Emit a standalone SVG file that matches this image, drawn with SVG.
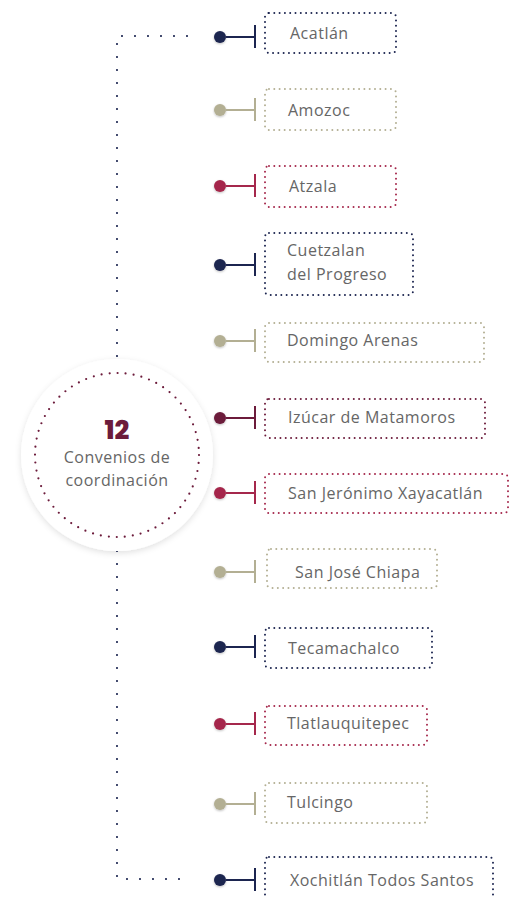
<svg xmlns="http://www.w3.org/2000/svg" width="523" height="898" viewBox="0 0 523 898">
<style>
.box{fill:#fff;stroke-width:2;stroke-linecap:round;stroke-dasharray:0 5.3}
.lbl{font-family:"Open Sans","Liberation Sans",sans-serif;font-size:16px;letter-spacing:0.5px;fill:#666}
.ln{stroke-width:2;fill:none}
.navy{stroke:#1c2550}.navyf{fill:#1c2550}
.tan{stroke:#b3af93}.tanf{fill:#b3af93}
.red{stroke:#a5284c}.redf{fill:#a5284c}
.mar{stroke:#6c1b3b}.marf{fill:#6c1b3b}
</style>
<defs>
<filter id="sh" x="-50%" y="-50%" width="200%" height="200%"><feDropShadow dx="0" dy="1" stdDeviation="1.2" flood-color="#000" flood-opacity="0.25"/></filter>
<filter id="csh" x="-20%" y="-20%" width="140%" height="140%"><feDropShadow dx="0" dy="2" stdDeviation="3" flood-color="#000" flood-opacity="0.12"/></filter>
</defs>
<rect width="523" height="898" fill="#fff"/>
<g id="connectors">
<path d="M187 36 H117 V879 H187" fill="none" stroke="#1c2550" stroke-width="2.2" stroke-linecap="round" stroke-dasharray="0 13"/>
</g>
<g id="center">
<circle cx="117" cy="455" r="96" fill="#fff" filter="url(#csh)"/>
<circle cx="117" cy="455" r="82" fill="none" stroke="#6c1b3b" stroke-width="2.2" stroke-linecap="round" stroke-dasharray="0 8.05"/>
<text x="117" y="439" text-anchor="middle" font-family="Poppins,'Open Sans','Liberation Sans',sans-serif" font-weight="800" font-size="26" fill="#6c1b3b">12</text>
<text x="117" y="463" text-anchor="middle" class="lbl">Convenios de</text>
<text x="117" y="486" text-anchor="middle" class="lbl">coordinación</text>
</g>
<g id="n1"><circle cx="220" cy="37" r="6" class="navyf" filter="url(#sh)"/><path d="M226 37H255M255 25V48" class="ln navy"/><rect x="265" y="13" width="131" height="40" rx="4" class="box navy"/><text x="290" y="39" class="lbl">Acatlán</text></g>
<g id="n2"><circle cx="220" cy="110" r="6" class="tanf" filter="url(#sh)"/><path d="M226 110H255M255 98V121" class="ln tan"/><rect x="265" y="89" width="131" height="41" rx="4" class="box tan"/><text x="288" y="116" class="lbl">Amozoc</text></g>
<g id="n3"><circle cx="220" cy="186" r="6" class="redf" filter="url(#sh)"/><path d="M226 186H255M255 174V197" class="ln red"/><rect x="265" y="166" width="131" height="41" rx="4" class="box red"/><text x="289" y="192" class="lbl">Atzala</text></g>
<g id="n4"><circle cx="220" cy="265" r="6" class="navyf" filter="url(#sh)"/><path d="M226 265H255M255 253V276" class="ln navy"/><rect x="265" y="233" width="148" height="62" rx="4" class="box navy"/><text x="287" y="256" class="lbl">Cuetzalan</text><text x="287" y="280" class="lbl">del Progreso</text></g>
<g id="n5"><circle cx="220" cy="341" r="6" class="tanf" filter="url(#sh)"/><path d="M226 341H255M255 329V352" class="ln tan"/><rect x="265" y="323" width="219" height="39" rx="4" class="box tan"/><text x="287" y="346" class="lbl">Domingo Arenas</text></g>
<g id="n6"><circle cx="220" cy="418" r="6" class="marf" filter="url(#sh)"/><path d="M226 418H255M255 406V429" class="ln mar"/><rect x="265" y="399" width="220" height="39" rx="4" class="box mar"/><text x="288" y="423" class="lbl">Izúcar de Matamoros</text></g>
<g id="n7"><circle cx="220" cy="493" r="6" class="redf" filter="url(#sh)"/><path d="M226 493H255M255 481V504" class="ln red"/><rect x="265" y="474" width="243" height="39" rx="4" class="box red"/><text x="288" y="499" class="lbl">San Jerónimo Xayacatlán</text></g>
<g id="n8"><circle cx="220" cy="572" r="6" class="tanf" filter="url(#sh)"/><path d="M226 572H255M255 560V583" class="ln tan"/><rect x="267" y="549" width="170" height="39" rx="4" class="box tan"/><text x="295" y="578" class="lbl">San José Chiapa</text></g>
<g id="n9"><circle cx="220" cy="647" r="6" class="navyf" filter="url(#sh)"/><path d="M226 647H255M255 635V658" class="ln navy"/><rect x="265" y="628" width="167" height="40" rx="4" class="box navy"/><text x="288" y="654" class="lbl">Tecamachalco</text></g>
<g id="n10"><circle cx="220" cy="724" r="6" class="redf" filter="url(#sh)"/><path d="M226 724H255M255 712V735" class="ln red"/><rect x="265" y="706" width="162" height="39" rx="4" class="box red"/><text x="287" y="729" class="lbl">Tlatlauquitepec</text></g>
<g id="n11"><circle cx="220" cy="804" r="6" class="tanf" filter="url(#sh)"/><path d="M226 804H255M255 792V815" class="ln tan"/><rect x="265" y="783" width="162" height="40" rx="4" class="box tan"/><text x="287" y="808" class="lbl">Tulcingo</text></g>
<g id="n12"><circle cx="220" cy="880" r="6" class="navyf" filter="url(#sh)"/><path d="M226 880H255M255 868V891" class="ln navy"/><rect x="265" y="857" width="228" height="50" rx="4" class="box navy"/><text x="290" y="886" class="lbl">Xochitlán Todos Santos</text></g>
</svg>
